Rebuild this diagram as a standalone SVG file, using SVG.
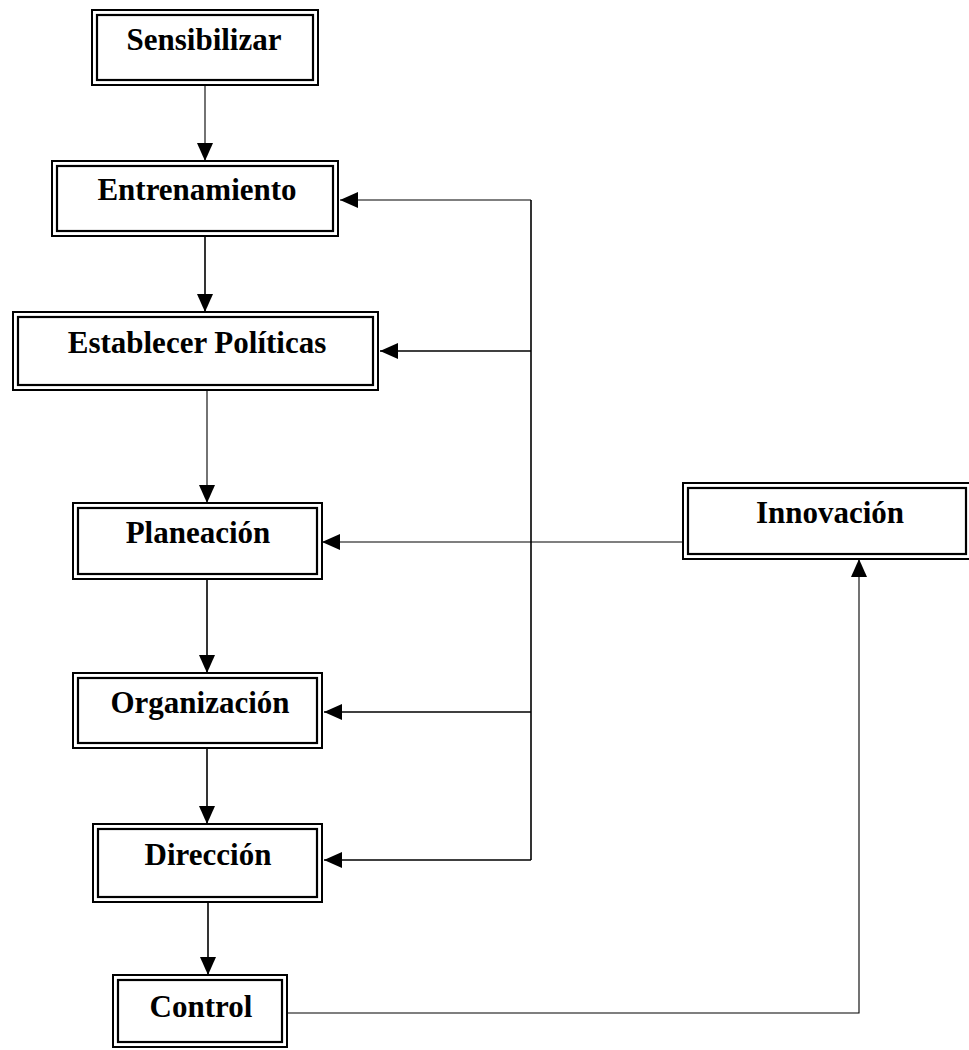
<svg xmlns="http://www.w3.org/2000/svg" width="969" height="1050" viewBox="0 0 969 1050">
  <style>
    .outer { fill: #fff; stroke: #000; stroke-width: 2; }
    .inner { fill: none; stroke: #000; stroke-width: 2.2; }
    .label { font-family: "Liberation Serif", "Times New Roman", serif; font-weight: bold; font-size: 31px; text-anchor: middle; fill: #000; }
    .conn { fill: none; stroke: #000; stroke-width: 1.6; }
    .thin { stroke-width: 1.1; }
  </style>
  <defs>
    <marker id="arrow" markerUnits="userSpaceOnUse" markerWidth="18" markerHeight="16" refX="18" refY="8" orient="auto">
      <path d="M0,0 L18,8 L0,16 Z" fill="#000"/>
    </marker>
  </defs>

  <!-- connectors -->
  <g id="connectors">
    <path class="conn thin" d="M205,85 V161" marker-end="url(#arrow)"/>
    <path class="conn" d="M205,236 V312" marker-end="url(#arrow)"/>
    <path class="conn thin" d="M207,390 V503" marker-end="url(#arrow)"/>
    <path class="conn" d="M207,578 V673" marker-end="url(#arrow)"/>
    <path class="conn" d="M207,748 V824" marker-end="url(#arrow)"/>
    <path class="conn" d="M208,902 V975" marker-end="url(#arrow)"/>
    <!-- feedback bus -->
    <path class="conn" d="M531,200 V860"/>
    <path class="conn thin" d="M531,200 H340" marker-end="url(#arrow)"/>
    <path class="conn" d="M531,351 H380" marker-end="url(#arrow)"/>
    <path class="conn" d="M531,712 H324" marker-end="url(#arrow)"/>
    <path class="conn" d="M531,860 H324" marker-end="url(#arrow)"/>
    <!-- innovation loop -->
    <path class="conn thin" d="M683,542 H322" marker-end="url(#arrow)"/>
    <path class="conn thin" d="M287,1013 H859 V559" marker-end="url(#arrow)"/>
  </g>

  <g id="sensibilizar">
    <rect class="outer" x="92" y="10" width="226" height="75"/>
    <rect class="inner" x="97" y="15" width="216" height="65"/>
    <text class="label" x="204" y="50">Sensibilizar</text>
  </g>

  <g id="entrenamiento">
    <rect class="outer" x="52" y="161" width="286" height="75"/>
    <rect class="inner" x="57" y="166" width="276" height="65"/>
    <text class="label" x="197" y="200">Entrenamiento</text>
  </g>

  <g id="establecer-politicas">
    <rect class="outer" x="13" y="312" width="365" height="78"/>
    <rect class="inner" x="18" y="317" width="355" height="68"/>
    <text class="label" x="197" y="353">Establecer Políticas</text>
  </g>

  <g id="planeacion">
    <rect class="outer" x="73" y="503" width="249" height="76"/>
    <rect class="inner" x="78" y="508" width="239" height="66"/>
    <text class="label" x="198" y="543">Planeación</text>
  </g>

  <g id="innovacion">
    <rect class="outer" x="683" y="483" width="290" height="76"/>
    <rect class="inner" x="688" y="488" width="278" height="66"/>
    <text class="label" x="830" y="523">Innovación</text>
  </g>

  <g id="organizacion">
    <rect class="outer" x="73" y="673" width="249" height="75"/>
    <rect class="inner" x="78" y="678" width="239" height="65"/>
    <text class="label" x="200" y="713">Organización</text>
  </g>

  <g id="direccion">
    <rect class="outer" x="93" y="824" width="229" height="78"/>
    <rect class="inner" x="98" y="829" width="219" height="68"/>
    <text class="label" x="208" y="865">Dirección</text>
  </g>

  <g id="control">
    <rect class="outer" x="113" y="975" width="174" height="72"/>
    <rect class="inner" x="118" y="980" width="164" height="62"/>
    <text class="label" x="201" y="1017">Control</text>
  </g>
</svg>
